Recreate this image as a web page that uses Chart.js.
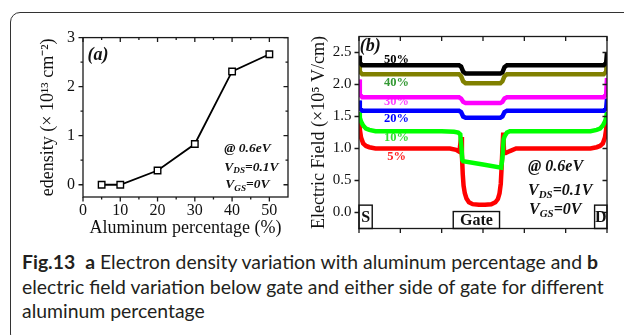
<!DOCTYPE html>
<html>
<head>
<meta charset="utf-8">
<script src="https://cdn.jsdelivr.net/npm/chart.js@4.4.1/dist/chart.umd.min.js"></script>
<style>
  html, body { margin: 0; padding: 0; background: #fff; width: 624px; height: 335px; overflow: hidden; position: relative; }
  .frame { position: absolute; left: 10px; top: 12px; width: 700px; height: 330px; border: 1.3px solid #333; border-radius: 10px; }
  #chartA { position: absolute; left: 15px; top: 20px; }
  #chartB { position: absolute; left: 305px; top: 20px; }
  .caption { position: absolute; left: 22px; top: 250px; font-family: Lato, "Open Sans", sans-serif; font-size: 19.4px; line-height: 24.5px; color: #231f20; white-space: nowrap; }
</style>
</head>
<body>
<div class="frame"></div>
<canvas id="chartA" width="290" height="225"></canvas>
<canvas id="chartB" width="315" height="225"></canvas>
<div class="caption"><b>Fig.13</b>&nbsp; <b>a</b> Electron density variation with aluminum percentage and <b>b</b><br>electric field variation below gate and either side of gate for different<br>aluminum percentage</div>
<script>
// ---- panel (a): electron density vs Al %
const alPercent = [5, 10, 20, 30, 40, 50];
const eDensity = [0.0, 0.0, 0.29, 0.83, 2.31, 2.66];
const xTicksA = [0, 10, 20, 30, 40, 50];
const yTicksA = [0, 1, 2, 3];

// ---- panel (b): electric field along the channel (S ... Gate ... D)
const seriesNames = ['50%', '40%', '30%', '20%', '10%', '5%'];
const seriesColors = ['#000000', '#808000', '#ff00ff', '#0000ff', '#00ff00', '#ff0000'];
const labelColors = ['#000000', '#339933', '#ff44ff', '#0000ff', '#33dd33', '#ff2222'];

const stepX = [0, 0.02, 0.08, 2.42, 2.47, 2.52, 2.58, 3.42, 3.47, 3.52, 3.58, 5.92, 5.98, 6];
const field50 = [2.45, 2.34, 2.30, 2.30, 2.28, 2.20, 2.17, 2.17, 2.19, 2.27, 2.30, 2.30, 2.34, 2.50];
const field40 = [2.35, 2.20, 2.16, 2.16, 2.13, 2.05, 2.02, 2.02, 2.05, 2.13, 2.16, 2.16, 2.20, 2.38];
const field30 = [2.08, 1.85, 1.80, 1.80, 1.78, 1.73, 1.71, 1.71, 1.73, 1.78, 1.80, 1.80, 1.85, 2.10];
const field20 = [1.75, 1.63, 1.59, 1.59, 1.57, 1.50, 1.48, 1.48, 1.50, 1.57, 1.59, 1.59, 1.63, 1.78];

const x10 = [0, 0.02, 0.05, 0.1, 0.17, 0.25, 0.4, 0.8, 2.0, 2.3, 2.4, 2.45, 2.48, 2.5, 2.52, 3.0, 3.44, 3.47, 3.5, 3.53, 3.58, 3.65, 3.8, 5.2, 5.6, 5.75, 5.83, 5.9, 5.95, 5.98, 6];
const field10 = [1.57, 1.48, 1.42, 1.36, 1.31, 1.29, 1.27, 1.27, 1.27, 1.26, 1.25, 1.22, 1.0, 0.82, 0.80, 0.75, 0.70, 0.85, 1.15, 1.20, 1.25, 1.27, 1.27, 1.27, 1.27, 1.29, 1.31, 1.36, 1.42, 1.48, 1.57];

const x5 = [0, 0.02, 0.05, 0.1, 0.17, 0.25, 0.4, 2.2, 2.35, 2.43, 2.47, 2.49, 2.51, 2.53, 2.56, 2.6, 2.66, 2.75, 2.9, 3.05, 3.2, 3.3, 3.36, 3.4, 3.43, 3.45, 3.47, 3.49, 3.51, 3.55, 3.65, 3.8, 5.6, 5.75, 5.83, 5.9, 5.95, 5.98, 6];
const field5 = [1.47, 1.30, 1.17, 1.08, 1.04, 1.02, 1.0, 1.0, 0.98, 0.95, 1.18, 0.90, 0.60, 0.42, 0.30, 0.22, 0.16, 0.13, 0.12, 0.12, 0.13, 0.16, 0.21, 0.30, 0.45, 0.70, 1.0, 1.25, 0.93, 0.93, 0.96, 1.0, 1.0, 1.02, 1.04, 1.08, 1.17, 1.30, 1.47];

const xTicksB = [0, 1, 2, 3, 4, 5, 6];
const yTicksB = [0, 0.5, 1.0, 1.5, 2.0, 2.5];

const SERIF = '"Liberation Serif", "Times New Roman", serif';
const pts = (xs, ys) => xs.map((v, i) => ({ x: v, y: ys[i] }));

// text with subscripts, parts = [[text, isSub], ...]
function richText(ctx, x, y, parts, size) {
    let cx = x;
    parts.forEach(([t, sub]) => {
        const s = sub ? size * 0.68 : size;
        ctx.font = `italic bold ${s}px ${SERIF}`;
        ctx.fillText(t, cx, sub ? y + size * 0.28 : y);
        cx += ctx.measureText(t).width;
    });
}

// box frame + ticks (left/bottom outward, top/right inward)
const frameTicks = {
    id: 'frameTicks',
    afterDatasetsDraw(chart, args, o) {
        const { ctx, chartArea: a, scales: { x, y } } = chart;
        ctx.save();
        ctx.strokeStyle = '#1a1a1a';
        ctx.lineWidth = 1.3;
        ctx.strokeRect(a.left, a.top, a.right - a.left, a.bottom - a.top);
        ctx.beginPath();
        const xs = (vals, len) => vals.forEach(v => {
            const p = x.getPixelForValue(v);
            ctx.moveTo(p, a.bottom); ctx.lineTo(p, a.bottom + len);
            ctx.moveTo(p, a.top); ctx.lineTo(p, a.top + len);
        });
        const ys = (vals, len) => vals.forEach(v => {
            const p = y.getPixelForValue(v);
            ctx.moveTo(a.left - len, p); ctx.lineTo(a.left, p);
            ctx.moveTo(a.right - len, p); ctx.lineTo(a.right, p);
        });
        xs(o.xMajor, 4.5); xs(o.xMinor || [], 2.5);
        ys(o.yMajor, 4.5); ys(o.yMinor || [], 2.5);
        ctx.stroke();
        ctx.restore();
    }
};

/* ==========================================
   (a) electron density
   ========================================== */
const notesA = {
    id: 'notesA',
    afterDatasetsDraw(chart) {
        const { ctx, scales: { x, y } } = chart;
        ctx.save();
        ctx.fillStyle = '#111';
        ctx.textBaseline = 'middle';
        ctx.font = `italic bold 18px ${SERIF}`;
        ctx.fillText('(a)', x.getPixelForValue(1.2), y.getPixelForValue(2.63));
        const lx = x.getPixelForValue(37.9);
        richText(ctx, lx, y.getPixelForValue(0.74), [['@ 0.6eV', 0]], 13.5);
        richText(ctx, lx, y.getPixelForValue(0.36), [['V', 0], ['DS', 1], ['=0.1V', 0]], 13.5);
        richText(ctx, lx + 1, y.getPixelForValue(0.0), [['V', 0], ['GS', 1], ['=0V', 0]], 13.5);
        ctx.restore();
    }
};

new Chart(document.getElementById('chartA'), {
    type: 'line',
    data: {
        datasets: [{
            data: pts(alPercent, eDensity),
            borderColor: '#000',
            borderWidth: 1.8,
            pointStyle: 'rect',
            pointRadius: 4.6,
            pointBackgroundColor: '#fff',
            pointBorderColor: '#000',
            pointBorderWidth: 1.4,
            tension: 0
        }]
    },
    options: {
        responsive: false,
        animation: false,
        events: [],
        layout: { padding: { top: 12, right: 17, left: 0, bottom: 0 } },
        plugins: { legend: { display: false }, tooltip: { enabled: false },
            frameTicks: { xMajor: xTicksA, xMinor: [5, 15, 25, 35, 45], yMajor: yTicksA, yMinor: [0.5, 1.5, 2.5] } },
        scales: {
            x: {
                type: 'linear', min: 0, max: 55,
                afterBuildTicks: s => { s.ticks = xTicksA.map(v => ({ value: v })); },
                afterFit: s => { s.height = 48; },
                grid: { display: false, drawTicks: false },
                border: { display: false },
                ticks: { font: { family: SERIF, size: 16 }, color: '#111', padding: 4, maxRotation: 0, autoSkip: false },
                title: { display: true, text: 'Aluminum percentage (%)', font: { family: SERIF, size: 18 }, color: '#111', padding: { top: 0, bottom: 6 } }
            },
            y: {
                type: 'linear', min: -0.25, max: 3,
                afterBuildTicks: s => { s.ticks = yTicksA.map(v => ({ value: v })); },
                afterFit: s => { s.width = 68; },
                grid: { display: false, drawTicks: false },
                border: { display: false },
                ticks: { font: { family: SERIF, size: 16 }, color: '#111', padding: 8 },
                title: { display: true, text: 'edensity (× 10¹³ cm⁻²)', font: { family: SERIF, size: 18 }, color: '#111', padding: { top: 22, bottom: 0 } }
            }
        }
    },
    plugins: [frameTicks, notesA]
});

/* ==========================================
   (b) electric field
   ========================================== */
const labelsB = {
    id: 'labelsB',
    beforeDatasetsDraw(chart, args, o) {
        const { ctx, scales: { x, y } } = chart;
        ctx.save();
        ctx.textAlign = 'center';
        ctx.textBaseline = 'middle';
        ctx.font = `bold 12.5px ${SERIF}`;
        seriesNames.forEach((n, i) => {
            ctx.fillStyle = labelColors[i];
            ctx.fillText(n, x.getPixelForValue(o.at), y.getPixelForValue(o.ys[i]));
        });
        ctx.restore();
    },
    afterDatasetsDraw(chart) {
        const { ctx, chartArea: a, scales: { x, y } } = chart;
        ctx.save();
        ctx.fillStyle = '#111';
        ctx.strokeStyle = '#111';
        ctx.lineWidth = 1.4;
        ctx.textBaseline = 'middle';
        ctx.font = `italic bold 18px ${SERIF}`;
        ctx.fillText('(b)', x.getPixelForValue(0.02), y.getPixelForValue(2.59));
        const lx = x.getPixelForValue(4.09);
        richText(ctx, lx, y.getPixelForValue(0.72), [['@ 0.6eV', 0]], 16);
        richText(ctx, lx, y.getPixelForValue(0.34), [['V', 0], ['DS', 1], ['=0.1V', 0]], 16);
        richText(ctx, lx + 1, y.getPixelForValue(0.04), [['V', 0], ['GS', 1], ['=0V', 0]], 16);
        // S / Gate / D boxes
        ctx.textAlign = 'center';
        const box = (x0, x1, top, txt) => {
            const l = x.getPixelForValue(x0), r = x.getPixelForValue(x1), t = y.getPixelForValue(top);
            ctx.strokeRect(l, t, r - l, a.bottom - t);
            ctx.font = `bold 16px ${SERIF}`;
            ctx.fillText(txt, (l + r) / 2, (t + a.bottom) / 2 + 1);
        };
        box(0, 0.32, 0.115, 'S');
        box(2.28, 3.4, 0.015, 'Gate');
        box(5.7, 6, 0.115, 'D');
        ctx.restore();
    }
};

const dsB = [
    pts(stepX, field50), pts(stepX, field40), pts(stepX, field30),
    pts(stepX, field20), pts(x10, field10), pts(x5, field5)
].map((d, i) => ({
    label: seriesNames[i],
    data: d,
    borderColor: seriesColors[i],
    borderWidth: 4.5,
    pointRadius: 0,
    tension: 0
}));

new Chart(document.getElementById('chartB'), {
    type: 'line',
    data: { datasets: dsB },
    options: {
        responsive: false,
        animation: false,
        events: [],
        layout: { padding: { top: 12, right: 13, left: 0, bottom: 0 } },
        plugins: { legend: { display: false }, tooltip: { enabled: false },
            frameTicks: { xMajor: xTicksB, yMajor: yTicksB },
            labelsB: { at: 0.91, ys: [2.38, 2.03, 1.73, 1.47, 1.17, 0.87] } },
        scales: {
            x: {
                type: 'linear', min: 0, max: 6,
                afterFit: s => { s.height = 14; },
                grid: { display: false, drawTicks: false },
                border: { display: false },
                ticks: { display: false }
            },
            y: {
                type: 'linear', min: -0.25, max: 2.75,
                afterBuildTicks: s => { s.ticks = yTicksB.map(v => ({ value: v })); },
                afterFit: s => { s.width = 54; },
                grid: { display: false, drawTicks: false },
                border: { display: false },
                ticks: { font: { family: SERIF, size: 15 }, color: '#111', padding: 7.5, callback: v => v.toFixed(1) },
                title: { display: true, text: 'Electric Field (×10⁵ V/cm)', font: { family: SERIF, size: 18 }, color: '#111', padding: { top: 3, bottom: 0 } }
            }
        }
    },
    plugins: [frameTicks, labelsB]
});
</script>
</body>
</html>
